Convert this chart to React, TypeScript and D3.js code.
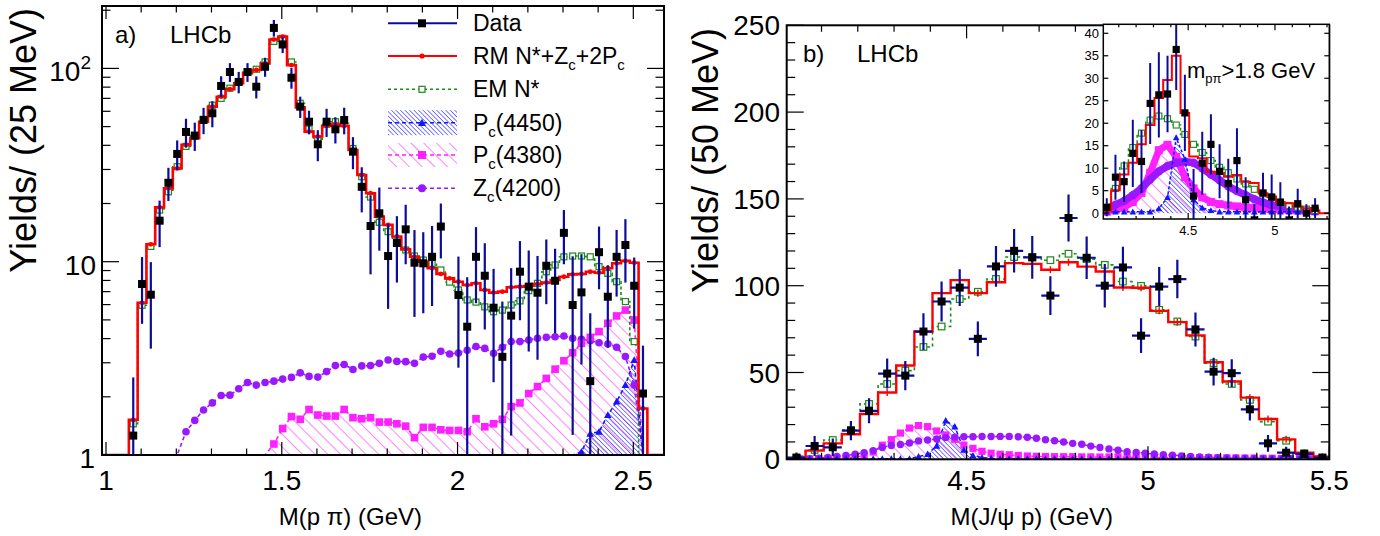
import React from "react";
import * as d3 from "d3";

const FONT = "'Liberation Sans', Arial, Helvetica, sans-serif";
const C_ERR = "#0c0c9c";
const C_RM = "#ff0000";
const C_EM = "#1a8a1a";
const C_P50 = "#1414ff";
const C_P38 = "#ff20ff";
const C_ZC = "#9a18ff";

// ================= Panel a) : M(p pi), 25 MeV bins =================
const aBinFirst = 1.0775;
const aBinWidth = 0.025;
const aData = [1.26, 7.67, 6.75, 16.3, 25.6, 36.1, 46.9, 44.9, 54.1, 58.6,
  81.1, 95.8, 85.1, 95.8, 80.4, 102, 162, 133, 89.5, 63.4,
  53.0, 40.5, 53.0, 48.4, 54.1, 37.1, 24.4, 15.3, 17.8, 10.7,
  12.5, 14.7, 9.88, 9.81, 10.6, 15.2, null, 6.73, 4.61, 10.6,
  8.46, 5.78, 3.22, 5.26, 8.88, 7.43, 6.91, 9.53, 7.97, 14.1,
  5.97, 6.94, 2.41, 11.2, 6.59, 10.6, 12.2, 7.51, 2.08];
const aErr = [1.26, 2.9, 3.2, 4.4, 5.0, 6.3, 8.0, 7.5, 8.4, 9.0,
  10.0, 10.7, 10.8, 10.7, 10.5, 11.5, 16, 13, 11, 8.0,
  7.4, 7.4, 8.8, 7.5, 8.5, 7.0, 6.4, 6.7, 6.4, 5.0,
  4.7, 5.0, 4.7, 4.4, 4.7, 4.8, 0, 3.9, 3.7, 4.5,
  4.0, 3.4, 3.0, 4.0, 3.9, 4.0, 3.8, 3.5, 3.7, 4.4,
  4.7, 4.0, 3.0, 4.0, 3.0, 4.0, 4.4, 3.0, 1.6];
const aRM = [1.52, 6.13, 12.3, 19.1, 24.0, 30.4, 40.2, 43.5, 53.0, 63.4,
  71.4, 78.0, 83.8, 94.4, 98.2, 106, 141, 146, 104, 62.9,
  47.1, 44.4, 50.4, 51.6, 50.4, 37.8, 28.1, 22.6, 17.1, 15.5,
  13.5, 11.6, 10.6, 10.0, 9.25, 8.64, 8.2, 7.88, 7.57, 7.73,
  7.14, 6.92, 7.0, 7.37, 7.43, 7.49, 7.67, 7.79, 8.04, 8.36,
  8.6, 8.64, 8.87, 8.77, 9.25, 9.81, 10.1, 9.88, 1.74];
const aEM = [1.45, 5.95, 12.0, 18.5, 23.0, 31.0, 39.5, 45.0, 54.5, 64.5,
  70.0, 79.0, 85.0, 96.0, 99.0, 108, 138, 143, 108, 66.0,
  48.5, 43.0, 51.5, 53.0, 52.0, 38.5, 27.5, 21.6, 16.0, 14.3,
  12.8, 11.5, 10.7, 10.2, 9.8, 9.06, 7.84, 7.14, 6.34, 6.18,
  5.84, 5.51, 5.62, 5.97, 6.27, 7.08, 7.73, 8.87, 9.62, 10.6,
  10.7, 10.7, 10.6, 9.43, 8.7, 7.88, 6.22, 3.86, null];
const aZcStart = 6;
const aZc = [1.32, 1.51, 1.71, 1.86, 2.03, 2.04, 2.20, 2.37, 2.30, 2.37,
  2.41, 2.47, 2.52, 2.66, 2.55, 2.53, 2.70, 2.90, 2.94, 2.77,
  2.89, 2.90, 2.98, 3.10, 3.05, 3.04, 2.98, 3.21, 3.24, 3.44,
  3.33, 3.37, 3.48, 3.64, 3.56, 3.36, 3.61, 3.86, 3.86, 3.93,
  4.02, 4.06, 4.09, 4.13, 4.02, 3.97, 3.90, 3.81, 3.75, 3.61,
  3.23, 2.30];
const aPc4380Start = 16;
const aPc4380 = [1.14, 1.37, 1.58, 1.53, 1.72, 1.61, 1.59, 1.59, 1.72, 1.56,
  1.54, 1.56, 1.48, 1.48, 1.45, 1.41, 1.23, 1.39, 1.39, 1.35,
  1.34, 1.34, 1.32, 1.54, 1.40, 1.45, 1.53, 1.78, 1.86, 2.08,
  2.26, 2.49, 2.78, 3.07, 3.38, 3.78, 4.06, 4.35, 4.80, 5.24,
  5.62, 4.99];
const aPc4450Start = 51;
const aPc4450 = [1.04, 1.29, 1.32, 1.61, 1.89, 2.30, 3.10];
const aXMajor = [1, 1.5, 2, 2.5];
const aXLabels = ["1", "1.5", "2", "2.5"];
const aYMajor = [1, 10, 100];

// ================= Panel b) : M(J/psi p), 50 MeV bins =================
const bBinFirst = 4.031;
const bBinWidth = 0.05;
const bData = [0.92, 7.67, 6.92, 16.5, 27.9, 49.4, 48.2, 73.6, 90.9, 98.9,
  69.4, 111.1, 120.1, 116.3, 94.3, 139.0, 116.1, 100.0, 110.5, 71.2,
  99.5, 103.8, 74.8, 50.5, 49.6, 28.8, 9.2, 3.8, 3.1, 0.92];
const bErr = [3, 5.8, 5, 5.5, 7.2, 8.6, 8.4, 10.6, 11.5, 10.6,
  10, 11.7, 12.5, 12.3, 11.2, 13.5, 12.3, 12.5, 12, 10,
  11.2, 11.1, 9.8, 8, 8, 6.5, 4.8, 3.5, 2, 1.5];
const bRM = [0.5, 5.0, 9.2, 14.4, 26.1, 38.5, 54.0, 73.6, 95.7, 103.2,
  95.7, 102.0, 113.0, 112.6, 109.2, 113.5, 111.0, 108.2, 99.0, 98.8,
  85.5, 79.0, 71.4, 55.9, 44.8, 35.5, 23.2, 11.5, 3.8, 1.5];
const bEM = [1.0, 5.4, 11.1, 16.9, 31.9, 43.4, 51.1, 64.7, 76.5, 92.3,
  96.5, 103.9, 116.5, 116.5, 114.7, 118.4, 115.3, 112.0, 102.4, 99.9,
  86.1, 79.4, 70.7, 55.4, 43.4, 34.2, 21.7, 10.7, 3.5, 1.0];
// components on 25 MeV grid
const bCompFirst = 4.0425;
const bCompWidth = 0.025;
const bZc = [0.2, 0.4, 0.7, 1.1, 1.6, 2.2, 2.9, 3.8, 5.0, 6.8,
  8.0, 8.5, 9.4, 10.6, 11.1, 11.7, 12.5, 12.8, 13.0, 13.0,
  13.1, 13.1, 13.2, 13.2, 13.0, 12.7, 12.1, 11.3, 10.7, 10.0,
  9.2, 8.7, 7.6, 6.8, 6.0, 5.2, 4.4, 3.9, 3.5, 3.1,
  2.7, 2.4, 2.0, 1.7, 1.4, 1.2, 0.9, 0.8, 0.7, 0.6,
  0.5, 0.5, 0.4, 0.3, 0.3, 0.2, 0.2, 0.1];
const bPc4380 = [0.1, 0.2, 0.3, 0.4, 0.6, 0.8, 1.2, 2.2, 4.2, 8.1,
  11.3, 15.1, 18.0, 19.4, 18.8, 16.3, 14.0, 11.5, 8.2, 6.3,
  4.6, 3.5, 2.9, 2.6, 2.2, 1.9, 1.7, 1.6, 1.5, 1.5,
  1.5, 1.4, 1.4, 1.3, 1.3, 1.3, 1.2, 1.2, 1.1, 1.1,
  1.0, 1.0, 1.0, 0.9, 0.9, 0.9, 0.8, 0.8, 0.8, 0.7,
  0.7, 0.6, 0.6, 0.5, 0.5, 0.4, 0.4, 0.3];
const bPc4450 = [0.3, 0.3, 0.3, 0.3, 0.3, 0.3, 0.3, 0.3, 0.3, 0.3,
  0.3, 0.3, 0.3, 1.5, 3.0, 7.8, 22.3, 18.8, 5.4, 2.2,
  1.0, 0.6, 0.3, 0.3, 0.3, 0.3, 0.3, 0.3, 0.3, 0.3,
  0.3, 0.3, 0.3, 0.3, 0.3, 0.3, 0.3, 0.3, 0.3, 0.3,
  0.3, 0.3, 0.3, 0.3, 0.3, 0.3, 0.3, 0.3, 0.3, 0.3,
  0.3, 0.3, 0.3, 0.3, 0.3, 0.3, 0.3, 0.3];
const bXMajor = [4.5, 5, 5.5];
const bXLabels = ["4.5", "5", "5.5"];
const bYMajor = [0, 50, 100, 150, 200, 250];

// ================= Inset (m_p pi > 1.8 GeV), 50 MeV bins =================
const cData = [1.3, 8.0, 7.0, 13.3, 11.5, 24.4, 26.3, 26.5, 36.4, 22.3,
  3.8, 11.1, 15.3, 9.3, 6.6, 11.7, 3.0, -1.5, 4.5, 3.6,
  2.4, -1.5, 2.1, 0.0, 1.1];
const cErr = [2.0, 5.0, 4.5, 7.5, 7.0, 9.0, 9.5, 8.5, 9.0, 8.5,
  6.0, 7.0, 6.7, 6.0, 5.5, 7.2, 5.0, 3.5, 4.5, 5.0,
  4.5, 3.0, 3.3, 2.0, 2.2];
const cRM = [0.4, 5.1, 8.6, 11.2, 15.3, 19.6, 25.6, 29.6, 35.0, 22.3,
  12.6, 12.2, 9.2, 8.9, 8.1, 8.5, 7.0, 6.7, 4.4, 3.7,
  2.4, 2.2, 1.5, 1.1, 0.6];
const cEM = [1.0, 5.5, 10.5, 14.6, 17.8, 20.7, 21.6, 21.0, 19.6, 17.5,
  15.3, 13.5, 11.7, 10.2, 9.0, 7.6, 6.5, 5.3, 4.3, 3.5,
  2.5, 1.7, 1.3, 0.9, 0.6];
const cZc = [1.0, 1.9, 2.7, 4.0, 5.5, 7.5, 9.3, 10.5, 11.2, 11.5,
  11.2, 10.0, 8.6, 7.3, 6.0, 4.9, 4.0, 3.1, 2.4, 1.8,
  1.5, 1.1, 0.9, 0.6, 0.4];
const cPc4380 = [0.3, 0.8, 1.3, 2.5, 4.5, 9.0, 14.0, 15.2, 12.5, 8.0,
  5.5, 3.5, 2.5, 2.0, 1.7, 1.5, 1.3, 1.2, 1.0, 0.9,
  0.8, 0.7, 0.6, 0.5, 0.4];
const cPc4450 = [0.3, 0.3, 0.3, 0.3, 0.3, 0.3, 1.0, 3.5, 16.8, 12.0,
  3.0, 1.2, 0.6, 0.3, 0.3, 0.3, 0.3, 0.3, 0.3, 0.3,
  0.3, 0.3, 0.3, 0.3, 0.3];
const cXMajor = [4.5, 5];
const cXLabels = ["4.5", "5"];
const cYMajor = [0, 5, 10, 15, 20, 25, 30, 35, 40];

type Pt = [number, number];
type V = number | null;

function histPts(vals: V[], first: number, w: number): Pt[] {
  const pts: Pt[] = [];
  vals.forEach((v, i) => {
    const c = first + w * i;
    const val = v == null ? NaN : v;
    pts.push([c - w / 2, val], [c + w / 2, val]);
  });
  return pts;
}

function tri(x: number, y: number, s: number) {
  return `M${x},${y - s}L${x + s},${y + s * 0.8}L${x - s},${y + s * 0.8}Z`;
}

export default function App() {
  // ---------- scales ----------
  const A = { l: 102, r: 664, t: 6, b: 455 };
  const aYMin = 1, aYMax = 210.3;
  const xA = d3.scaleLinear().domain([0.9886, 2.5873]).range([A.l, A.r]);
  const yA = d3.scaleLog().domain([aYMin, aYMax]).range([A.b, A.t]);
  const ya = (v: number) => yA(!(v > aYMin) ? aYMin : Math.min(v, aYMax * 3));
  const aC = (i: number) => aBinFirst + aBinWidth * i;

  const B = { l: 786.7, r: 1329.3, t: 25.3, b: 459.3 };
  const xB = d3.scaleLinear().domain([4.004, 5.5]).range([B.l, B.r]);
  const yB = d3.scaleLinear().domain([0, 250]).range([B.b, B.t]);
  const yb = (v: number) => yB(!(v > 0) ? 0 : v);
  const bC = (i: number) => bBinFirst + bBinWidth * i;
  const bF = (j: number) => bCompFirst + bCompWidth * j;

  const C = { l: 1103.3, r: 1329.3, t: 24.3, b: 219 };
  const xC = d3.scaleLinear().domain([4.011, 5.313]).range([C.l, C.r]);
  const yC = d3.scaleLinear().domain([-1.3, 42]).range([C.b, C.t]);
  const yc = (v: number) => yC(isNaN(v) ? 0 : v);

  const lineA = d3.line<Pt>().x((d) => xA(d[0])).y((d) => ya(d[1]));
  const lineB = d3.line<Pt>().x((d) => xB(d[0])).y((d) => yb(d[1]));
  const lineC = d3.line<Pt>().x((d) => xC(d[0])).y((d) => yc(d[1]));

  // ---------- panel a paths ----------
  const xAmin = xA.domain()[0], xAmax = xA.domain()[1];
  const aRMPts: Pt[] = [[xAmin, 0], [aC(0) - aBinWidth / 2, 0], ...histPts(aRM, aBinFirst, aBinWidth), [aC(aRM.length - 1) + aBinWidth / 2, 0], [xAmax, 0]];
  const aEMPts: Pt[] = [[aC(0) - aBinWidth / 2, 0], ...histPts(aEM, aBinFirst, aBinWidth)];
  const comp = (vals: number[], start: number): Pt[] => [
    [xAmin, 0], [aC(start - 1), 0],
    ...vals.map((v, i) => [aC(start + i), v] as Pt),
    [aC(start + vals.length), 0], [aC(58), 0],
  ];
  const aZcPts = comp(aZc, aZcStart);
  const aP38Pts = comp(aPc4380, aPc4380Start);
  const aP50Pts = comp(aPc4450, aPc4450Start);
  const areaA = d3.area<Pt>().x((d) => xA(d[0])).y0(A.b).y1((d) => ya(d[1]));
  const hatchA = (vals: number[], start: number): Pt[] => [
    [aC(start - 1), 0], ...vals.map((v, i) => [aC(start + i), v] as Pt), [aC(start + vals.length), 0],
  ];

  // ---------- panel b paths ----------
  const bRMPts: Pt[] = [[bC(0) - bBinWidth / 2, 0], ...histPts(bRM, bBinFirst, bBinWidth), [bC(bRM.length - 1) + bBinWidth / 2, 0]];
  const bEMPts: Pt[] = [[bC(0) - bBinWidth / 2, 0], ...histPts(bEM, bBinFirst, bBinWidth), [bC(bEM.length - 1) + bBinWidth / 2, 0]];
  const bCompPts = (vals: number[]): Pt[] => vals.map((v, j) => [bF(j), v] as Pt);
  const areaB = d3.area<Pt>().x((d) => xB(d[0])).y0(B.b).y1((d) => yb(d[1]));

  // ---------- inset paths ----------
  const cRMPts: Pt[] = [[bC(0) - bBinWidth / 2, 0], ...histPts(cRM, bBinFirst, bBinWidth), [bC(cRM.length - 1) + bBinWidth / 2, 0], [5.313, 0]];
  const cEMPts: Pt[] = [[bC(0) - bBinWidth / 2, 0], ...histPts(cEM, bBinFirst, bBinWidth)];
  const cCompPts = (vals: number[]): Pt[] => vals.map((v, k) => [bC(k), v] as Pt);
  const areaC = d3.area<Pt>().x((d) => xC(d[0])).y0(yC(0)).y1((d) => yc(d[1]));

  // ---------- ticks ----------
  const aXMinor = d3.range(10, 26).map((v) => v / 10).filter((v) => !aXMajor.some((m) => Math.abs(m - v) < 1e-6));
  const aYMinor: number[] = [];
  [1, 10, 100].forEach((dec) => { for (let k = 2; k <= 9; k++) if (dec * k < aYMax) aYMinor.push(dec * k); });
  const bXMinor = d3.range(41, 55).map((v) => v / 10).filter((v) => !bXMajor.some((m) => Math.abs(m - v) < 1e-6));
  const bYMinor = d3.range(0, 251, 10).filter((v) => v % 50 !== 0);
  const cXMinor = d3.range(41, 54).map((v) => v / 10).filter((v) => !cXMajor.some((m) => Math.abs(m - v) < 1e-6));

  const tickStroke = { stroke: "#000", strokeWidth: 1.2 };

  const legendY = [23.3, 56, 89.3, 122.7, 155, 188.3];
  const lgX1 = 388, lgX2 = 457, lgM = 422, lgT = 473;

  return (
    <svg width={1380} height={536} style={{ position: "absolute", left: 0, top: 0, background: "#fff" }} fontFamily={FONT}>
      <defs>
        <pattern id="hB" patternUnits="userSpaceOnUse" width="3.2" height="3.2" patternTransform="rotate(-45)">
          <line x1="0" y1="0" x2="0" y2="3.2" stroke={C_P50} strokeWidth="1.1" />
        </pattern>
        <pattern id="hM" patternUnits="userSpaceOnUse" width="9" height="9" patternTransform="rotate(-45)">
          <line x1="0" y1="0" x2="0" y2="9" stroke={C_P38} strokeWidth="1.1" />
        </pattern>
        <clipPath id="clipA"><rect x={A.l} y={A.t} width={A.r - A.l} height={A.b - A.t} /></clipPath>
        <clipPath id="clipB"><rect x={B.l} y={B.t} width={B.r - B.l} height={B.b - B.t} /></clipPath>
        <clipPath id="clipC"><rect x={C.l} y={C.t} width={C.r - C.l} height={C.b - C.t} /></clipPath>
      </defs>
      <rect x={0} y={0} width={1380} height={536} fill="#fff" />

      {/* ======================= PANEL A ======================= */}
      <g clipPath="url(#clipA)">
        <path d={areaA(hatchA(aPc4380, aPc4380Start)) || ""} fill="url(#hM)" />
        <path d={areaA(hatchA(aPc4450, aPc4450Start)) || ""} fill="url(#hB)" />
        <path d={lineA(aZcPts) || ""} fill="none" stroke={C_ZC} strokeWidth={1.6} strokeDasharray="4,3" />
        <path d={lineA(aP38Pts) || ""} fill="none" stroke={C_P38} strokeWidth={1.6} strokeDasharray="4,3" />
        <path d={lineA(aP50Pts) || ""} fill="none" stroke={C_P50} strokeWidth={1.6} strokeDasharray="4,3" />
        {aZc.map((v, i) => (
          <circle key={"az" + i} cx={xA(aC(aZcStart + i))} cy={ya(v)} r={3.8} fill={C_ZC} />
        ))}
        {aPc4380.map((v, i) => (
          <rect key={"am" + i} x={xA(aC(aPc4380Start + i)) - 3.8} y={ya(v) - 3.8} width={7.6} height={7.6} fill={C_P38} />
        ))}
        {aPc4450.map((v, i) => (
          <path key={"ab" + i} d={tri(xA(aC(aPc4450Start + i)), ya(v), 3.8)} fill={C_P50} />
        ))}
        <path d={lineA(aEMPts) || ""} fill="none" stroke={C_EM} strokeWidth={1.6} strokeDasharray="3,2.5" />
        {aEM.map((v, i) => v == null ? null : (
          <rect key={"ae" + i} x={xA(aC(i)) - 3} y={ya(v) - 3} width={6} height={6} fill="#fff" stroke={C_EM} strokeWidth={1.2} />
        ))}
        <path d={lineA(aRMPts) || ""} fill="none" stroke={C_RM} strokeWidth={2.6} />
        {aRM.map((v, i) => (
          <circle key={"ar" + i} cx={xA(aC(i))} cy={ya(v)} r={2.4} fill={C_RM} />
        ))}
        {aData.map((v, i) => {
          if (v == null) return null;
          const e = aErr[i];
          const x = xA(aC(i));
          return (
            <g key={"ad" + i}>
              <line x1={x} x2={x} y1={ya(v - e)} y2={ya(v + e)} stroke={C_ERR} strokeWidth={2.2} />
              <rect x={x - 4} y={ya(v) - 4} width={8} height={8} fill="#000" />
            </g>
          );
        })}
      </g>
      {/* frame and ticks A */}
      <rect x={A.l} y={A.t} width={A.r - A.l} height={A.b - A.t} fill="none" stroke="#000" strokeWidth={2} />
      {aXMajor.map((v) => (
        <g key={"axM" + v}>
          <line x1={xA(v)} x2={xA(v)} y1={A.b} y2={A.b - 13} {...tickStroke} />
          <line x1={xA(v)} x2={xA(v)} y1={A.t} y2={A.t + 13} {...tickStroke} />
        </g>
      ))}
      {aXMinor.map((v) => (
        <g key={"axm" + v}>
          <line x1={xA(v)} x2={xA(v)} y1={A.b} y2={A.b - 6.5} {...tickStroke} />
          <line x1={xA(v)} x2={xA(v)} y1={A.t} y2={A.t + 6.5} {...tickStroke} />
        </g>
      ))}
      {aYMajor.map((v) => (
        <g key={"ayM" + v}>
          <line x1={A.l} x2={A.l + 17} y1={yA(v)} y2={yA(v)} {...tickStroke} />
          <line x1={A.r} x2={A.r - 17} y1={yA(v)} y2={yA(v)} {...tickStroke} />
        </g>
      ))}
      {aYMinor.map((v) => (
        <g key={"aym" + v}>
          <line x1={A.l} x2={A.l + 8.5} y1={yA(v)} y2={yA(v)} {...tickStroke} />
          <line x1={A.r} x2={A.r - 8.5} y1={yA(v)} y2={yA(v)} {...tickStroke} />
        </g>
      ))}
      {aXMajor.map((v, i) => (
        <text key={"axl" + v} x={xA(v)} y={490} fontSize={28} textAnchor="middle">{aXLabels[i]}</text>
      ))}
      <text x={95} y={yA(1) + 13} fontSize={28} textAnchor="end">1</text>
      <text x={96} y={yA(10) + 13} fontSize={28} textAnchor="end">10</text>
      <text x={91} y={yA(100) + 13} fontSize={28} textAnchor="end">
        10<tspan dy={-12} fontSize={19}>2</tspan>
      </text>
      <text transform="translate(36,8) rotate(-90)" fontSize={36} textAnchor="end">Yields/ (25 MeV)</text>
      <text x={422} y={525} fontSize={24} textAnchor="end">M(p π) (GeV)</text>
      <text x={115} y={43} fontSize={24}>a)</text>
      <text x={170} y={43} fontSize={24}>LHCb</text>

      {/* legend */}
      <g>
        <line x1={lgX1} x2={lgX2} y1={legendY[0]} y2={legendY[0]} stroke={C_ERR} strokeWidth={2} />
        <rect x={lgM - 4} y={legendY[0] - 4} width={8} height={8} fill="#000" />
        <text x={lgT} y={legendY[0] + 8} fontSize={23}>Data</text>

        <line x1={lgX1} x2={lgX2} y1={legendY[1]} y2={legendY[1]} stroke={C_RM} strokeWidth={2} />
        <circle cx={lgM} cy={legendY[1]} r={2.6} fill={C_RM} />
        <text x={lgT} y={legendY[1] + 8} fontSize={23}>
          RM N*+Z<tspan dy={6} fontSize={15}>c</tspan><tspan dy={-6}>+2P</tspan><tspan dy={6} fontSize={15}>c</tspan>
        </text>

        <line x1={lgX1} x2={lgX2} y1={legendY[2]} y2={legendY[2]} stroke={C_EM} strokeWidth={1.6} strokeDasharray="3,3" />
        <rect x={lgM - 3} y={legendY[2] - 3} width={6} height={6} fill="#fff" stroke={C_EM} strokeWidth={1.2} />
        <text x={lgT} y={legendY[2] + 8} fontSize={23}>EM N*</text>

        <rect x={lgX1} y={legendY[3] - 12.5} width={lgX2 - lgX1} height={25} fill="url(#hB)" />
        <line x1={lgX1} x2={lgX2} y1={legendY[3]} y2={legendY[3]} stroke={C_P50} strokeWidth={1.6} strokeDasharray="4,3" />
        <path d={tri(lgM, legendY[3], 4)} fill={C_P50} />
        <text x={lgT} y={legendY[3] + 8} fontSize={23}>
          P<tspan dy={6} fontSize={15}>c</tspan><tspan dy={-6}>(4450)</tspan>
        </text>

        <rect x={lgX1} y={legendY[4] - 12} width={lgX2 - lgX1} height={24} fill="url(#hM)" />
        <line x1={lgX1} x2={lgX2} y1={legendY[4]} y2={legendY[4]} stroke={C_P38} strokeWidth={1.6} strokeDasharray="4,3" />
        <rect x={lgM - 4} y={legendY[4] - 4} width={8} height={8} fill={C_P38} />
        <text x={lgT} y={legendY[4] + 8} fontSize={23}>
          P<tspan dy={6} fontSize={15}>c</tspan><tspan dy={-6}>(4380)</tspan>
        </text>

        <line x1={lgX1} x2={lgX2} y1={legendY[5]} y2={legendY[5]} stroke={C_ZC} strokeWidth={1.6} strokeDasharray="4,3" />
        <circle cx={lgM} cy={legendY[5]} r={4} fill={C_ZC} />
        <text x={lgT} y={legendY[5] + 8} fontSize={23}>
          Z<tspan dy={6} fontSize={15}>c</tspan><tspan dy={-6}>(4200)</tspan>
        </text>
      </g>

      {/* ======================= PANEL B ======================= */}
      <g clipPath="url(#clipB)">
        <path d={areaB(bCompPts(bPc4380)) || ""} fill="url(#hM)" />
        <path d={areaB(bCompPts(bPc4450)) || ""} fill="url(#hB)" />
        <path d={lineB(bCompPts(bPc4380)) || ""} fill="none" stroke={C_P38} strokeWidth={1.5} strokeDasharray="4,3" />
        <path d={lineB(bCompPts(bZc)) || ""} fill="none" stroke={C_ZC} strokeWidth={1.5} strokeDasharray="4,3" />
        <path d={lineB(bCompPts(bPc4450)) || ""} fill="none" stroke={C_P50} strokeWidth={1.5} strokeDasharray="4,3" />
        {bPc4380.map((v, j) => (
          <rect key={"bm" + j} x={xB(bF(j)) - 3.6} y={yb(v) - 3.6} width={7.2} height={7.2} fill={C_P38} />
        ))}
        {bZc.map((v, j) => (
          <circle key={"bz" + j} cx={xB(bF(j))} cy={yb(v)} r={3.7} fill={C_ZC} />
        ))}
        {bPc4450.map((v, j) => (
          <path key={"bb" + j} d={tri(xB(bF(j)), yb(v), 3.6)} fill={C_P50} />
        ))}
        <path d={lineB(bEMPts) || ""} fill="none" stroke={C_EM} strokeWidth={1.6} strokeDasharray="3,3" />
        {bEM.map((v, i) => (
          <rect key={"be" + i} x={xB(bC(i)) - 3.3} y={yb(v) - 3.3} width={6.6} height={6.6} fill="#fff" stroke={C_EM} strokeWidth={1.2} />
        ))}
        <path d={lineB(bRMPts) || ""} fill="none" stroke={C_RM} strokeWidth={2.4} />
        {bRM.map((v, i) => (
          <line key={"br" + i} x1={xB(bC(i))} x2={xB(bC(i))} y1={yb(v) - 3.5} y2={yb(v) + 3.5} stroke={C_RM} strokeWidth={1.4} />
        ))}
        {bData.map((v, i) => {
          const x = xB(bC(i));
          const e = bErr[i];
          return (
            <g key={"bd" + i}>
              <line x1={x} x2={x} y1={yb(v - e)} y2={yb(v + e)} stroke={C_ERR} strokeWidth={2.2} />
              <line x1={xB(bC(i) - bBinWidth / 2)} x2={xB(bC(i) + bBinWidth / 2)} y1={yb(v)} y2={yb(v)} stroke={C_ERR} strokeWidth={2.2} />
              <rect x={x - 4} y={yb(v) - 4} width={8} height={8} fill="#000" />
            </g>
          );
        })}
      </g>
      <rect x={B.l} y={B.t} width={B.r - B.l} height={B.b - B.t} fill="none" stroke="#000" strokeWidth={2} />
      {bXMajor.map((v) => (
        <g key={"bxM" + v}>
          <line x1={xB(v)} x2={xB(v)} y1={B.b} y2={B.b - 13} {...tickStroke} />
          <line x1={xB(v)} x2={xB(v)} y1={B.t} y2={B.t + 13} {...tickStroke} />
        </g>
      ))}
      {bXMinor.map((v) => (
        <g key={"bxm" + v}>
          <line x1={xB(v)} x2={xB(v)} y1={B.b} y2={B.b - 6.5} {...tickStroke} />
          <line x1={xB(v)} x2={xB(v)} y1={B.t} y2={B.t + 6.5} {...tickStroke} />
        </g>
      ))}
      {bYMajor.map((v) => (
        <g key={"byM" + v}>
          <line x1={B.l} x2={B.l + 17} y1={yB(v)} y2={yB(v)} {...tickStroke} />
          <line x1={B.r} x2={B.r - 17} y1={yB(v)} y2={yB(v)} {...tickStroke} />
        </g>
      ))}
      {bYMinor.map((v) => (
        <g key={"bym" + v}>
          <line x1={B.l} x2={B.l + 8.5} y1={yB(v)} y2={yB(v)} {...tickStroke} />
          <line x1={B.r} x2={B.r - 8.5} y1={yB(v)} y2={yB(v)} {...tickStroke} />
        </g>
      ))}
      {bXMajor.map((v, i) => (
        <text key={"bxl" + v} x={xB(v)} y={490} fontSize={28} textAnchor="middle">{bXLabels[i]}</text>
      ))}
      {bYMajor.map((v) => (
        <text key={"byl" + v} x={780} y={yB(v) + 10} fontSize={28} textAnchor="end">{v}</text>
      ))}
      <text transform="translate(718,28) rotate(-90)" fontSize={36} textAnchor="end">Yields/ (50 MeV)</text>
      <text x={1113} y={525} fontSize={24} textAnchor="end">M(J/ψ p) (GeV)</text>
      <text x={803} y={62} fontSize={24}>b)</text>
      <text x={857} y={62} fontSize={24}>LHCb</text>

      {/* ======================= INSET ======================= */}
      <rect x={C.l} y={C.t} width={C.r - C.l} height={C.b - C.t} fill="#fff" />
      <g clipPath="url(#clipC)">
        <path d={areaC(cCompPts(cPc4380)) || ""} fill="url(#hM)" />
        <path d={areaC(cCompPts(cPc4450)) || ""} fill="url(#hB)" />
        <path d={lineC(cCompPts(cPc4380)) || ""} fill="none" stroke={C_P38} strokeWidth={7} strokeLinejoin="round" />
        {cPc4380.map((v, k) => (
          <rect key={"cm" + k} x={xC(bC(k)) - 4} y={yc(v) - 4} width={8} height={8} fill={C_P38} />
        ))}
        <path d={lineC(cCompPts(cZc)) || ""} fill="none" stroke={C_ZC} strokeWidth={7.5} strokeLinejoin="round" strokeLinecap="round" />
        {cZc.map((v, k) => (
          <circle key={"cz" + k} cx={xC(bC(k))} cy={yc(v)} r={4.2} fill={C_ZC} />
        ))}
        <path d={lineC(cCompPts(cPc4450)) || ""} fill="none" stroke={C_P50} strokeWidth={1.5} strokeDasharray="3,2" />
        {cPc4450.map((v, k) => (
          <path key={"cb" + k} d={tri(xC(bC(k)), yc(v), 3.3)} fill={C_P50} />
        ))}
        <path d={lineC(cEMPts) || ""} fill="none" stroke={C_EM} strokeWidth={1.5} strokeDasharray="3,2.5" />
        {cEM.map((v, k) => (
          <rect key={"ce" + k} x={xC(bC(k)) - 3} y={yc(v) - 3} width={6} height={6} fill="#fff" stroke={C_EM} strokeWidth={1.1} />
        ))}
        <path d={lineC(cRMPts) || ""} fill="none" stroke={C_RM} strokeWidth={2} />
        {cData.map((v, k) => {
          const x = xC(bC(k));
          const e = cErr[k];
          return (
            <g key={"cd" + k}>
              <line x1={x} x2={x} y1={yC(v - e)} y2={yC(v + e)} stroke={C_ERR} strokeWidth={2} />
              <rect x={x - 3.6} y={yC(v) - 3.6} width={7.2} height={7.2} fill="#000" />
            </g>
          );
        })}
      </g>
      <rect x={C.l} y={C.t} width={C.r - C.l} height={C.b - C.t} fill="none" stroke="#000" strokeWidth={1.5} />
      {cYMajor.map((v) => (
        <g key={"cyM" + v}>
          <line x1={C.l} x2={C.l + 5} y1={yC(v)} y2={yC(v)} {...tickStroke} />
          <line x1={C.r} x2={C.r - 5} y1={yC(v)} y2={yC(v)} {...tickStroke} />
          <text x={1099} y={yC(v) + 4.5} fontSize={13} textAnchor="end">{v}</text>
        </g>
      ))}
      {cXMajor.map((v, i) => (
        <g key={"cxM" + v}>
          <line x1={xC(v)} x2={xC(v)} y1={C.b} y2={C.b - 6} {...tickStroke} />
          <line x1={xC(v)} x2={xC(v)} y1={C.t} y2={C.t + 6} {...tickStroke} />
          <text x={xC(v)} y={235} fontSize={13} textAnchor="middle">{cXLabels[i]}</text>
        </g>
      ))}
      {cXMinor.map((v) => (
        <g key={"cxm" + v}>
          <line x1={xC(v)} x2={xC(v)} y1={C.b} y2={C.b - 3} {...tickStroke} />
          <line x1={xC(v)} x2={xC(v)} y1={C.t} y2={C.t + 3} {...tickStroke} />
        </g>
      ))}
      <text x={1187} y={78} fontSize={22}>
        m<tspan dy={5} fontSize={13}>pπ</tspan><tspan dy={-5}>&gt;1.8 GeV</tspan>
      </text>
    </svg>
  );
}
